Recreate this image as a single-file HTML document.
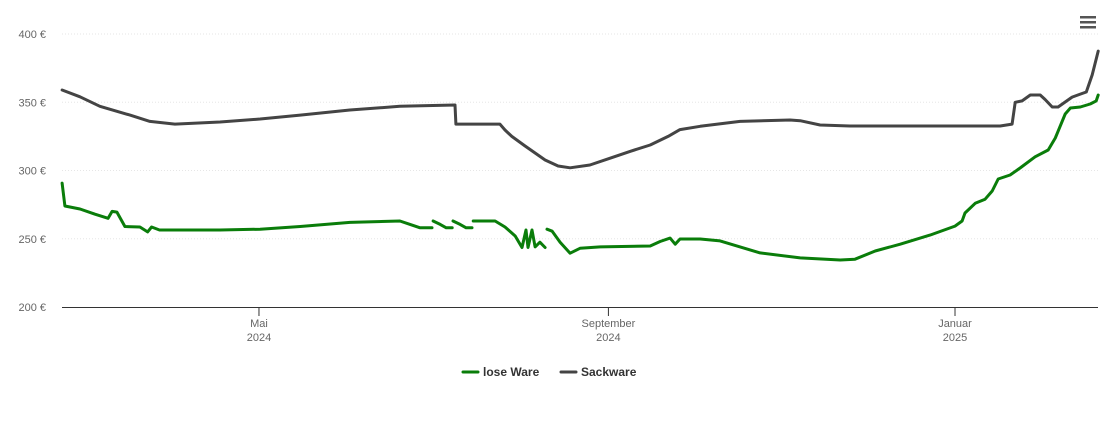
<!DOCTYPE html>
<html><head><meta charset="utf-8"><style>
body{margin:0;background:#fff;font-family:"Liberation Sans",sans-serif}
svg text{font-family:"Liberation Sans",sans-serif}
</style></head><body>
<svg width="1110" height="422" id="c">
<g id="grid"></g><g id="series"></g>
<g><rect x="1080" y="16" width="16" height="2.5" fill="#555"/><rect x="1080" y="21" width="16" height="2.5" fill="#555"/><rect x="1080" y="26" width="16" height="2.5" fill="#555"/></g>
<g>
<g><line x1="463" y1="372" x2="478" y2="372" stroke="#0a7d0a" stroke-width="3" stroke-linecap="round"/><text x="483" y="376" font-size="12" font-weight="bold" fill="#333">lose Ware</text></g>
<g><line x1="561" y1="372" x2="576" y2="372" stroke="#444" stroke-width="3" stroke-linecap="round"/><text x="581" y="376" font-size="12" font-weight="bold" fill="#333">Sackware</text></g>
</g>
</svg>
<script>
const yTicks=[200,250,300,350,400];
const xTickDays=[70,193,315];
const xTickLabels=[["Mai","2024"],["September","2024"],["Januar","2025"]];
const loseDays=[0.7,1.7,7,12.3,16.9,18.3,20,22.8,28.1,30.8,32.2,35,56.3,70.4,84.5,102,119.6,123.2,126.7,130.9,null,131.3,133.8,135.9,138,null,138.3,140.8,142.9,145,null,145.4,153.1,156.6,160.2,162.6,164,164.7,166.1,167.2,168.9,170.7,null,171.4,173.2,176,179.5,183,190.1,207.7,211.2,214.7,216.5,218.2,225.3,232.3,246.4,260.5,274.6,279.8,286.9,295.7,306.2,315,317.5,318.5,322.1,325.6,328.1,330.2,334.4,337.9,343.2,347.8,350.3,353.8,355.6,359.1,362.6,364.7,365.4];
const loseVals=[290.8,274,271.8,268,265,270,269.5,259,258.6,255,258.6,256.4,256.4,257,259,262,263,260.5,258,258,null,263,260.5,258,258,null,263,260.5,258,258,null,263,263,258.6,252,243.6,256.4,243.6,256.4,244,247.5,243.6,null,257,255.5,247.5,239.4,243,244,244.7,248,250.5,246,249.8,249.8,248.4,239.6,236,234.4,235,241,246,252.7,259.3,263,268.9,276,279,285,293.8,296.7,301.8,310,315,323.8,341.4,345.8,346.5,348.7,351,355.3];
const sackDays=[0.7,7,14,24.6,31.6,40.4,56.3,70.4,84.5,102,119.6,139,139.3,154.8,156.6,159,163.6,170.7,175.3,179.5,186.5,193.6,200.6,207.7,214,218.2,225.3,239.3,256.9,260.5,267.5,278,330.9,335.1,336.2,338.6,341.5,345,346.7,349.2,351.3,356.2,359.1,361.2,363.3,365.4];
const sackVals=[359,354,347,340.6,336,334,335.5,337.7,340.6,344.3,347,348,334,334,329.7,325,318,307.7,303.3,302,304,309,314,318.7,325,330,332.4,336,337,336.5,333.3,332.6,332.6,334,350,351,355.3,355.3,352,346.5,346.5,353.8,356,357.5,370,387.5];
const NS="http://www.w3.org/2000/svg";
const x=d=>60.1+d*2.841;
const y=v=>307-(v-200)*68.25/50;
const grid=document.getElementById('grid'),ser=document.getElementById('series');
function mk(t,a,p){const e=document.createElementNS(NS,t);for(const k in a)e.setAttribute(k,a[k]);p.appendChild(e);return e;}
yTicks.forEach(v=>{
  if(v>200){const l=mk('line',{x1:62,x2:1098,y1:y(v),y2:y(v),stroke:'#e6e6e6','stroke-dasharray':'1,2'},grid);
  
  }
  const t=mk('text',{x:46,y:y(v)+4,'font-size':11,fill:'#666','text-anchor':'end'},grid);t.textContent=v+' €';
  
  
});
const ax=mk('line',{x1:62,x2:1098,y1:307.5,y2:307.5,stroke:'#333','stroke-width':1},grid);


xTickDays.forEach((d,i)=>{
  mk('line',{x1:x(d),x2:x(d),y1:307,y2:316,stroke:'#333'},grid);
  const g=mk('g',{},grid);
  
  
  xTickLabels[i].forEach((s,j)=>{const t=mk('text',{x:x(d),y:327+j*14,'font-size':11,fill:'#666','text-anchor':'middle'},g);t.textContent=s;});
});
function path(days,vals,color,name){
  let dstr='',pen=false;
  days.forEach((d,i)=>{if(d===null||vals[i]===null){pen=false;return;}dstr+=(pen?'L':'M')+x(d).toFixed(1)+','+y(vals[i]).toFixed(1);pen=true;});
  const p=mk('path',{d:dstr,fill:'none',stroke:color,'stroke-width':3,'stroke-linejoin':'round','stroke-linecap':'round'},ser);
  
  
}
path(sackDays,sackVals,'#444','series-sackware');
path(loseDays,loseVals,'#0a7d0a','series-lose-ware');
</script>
</body></html>
